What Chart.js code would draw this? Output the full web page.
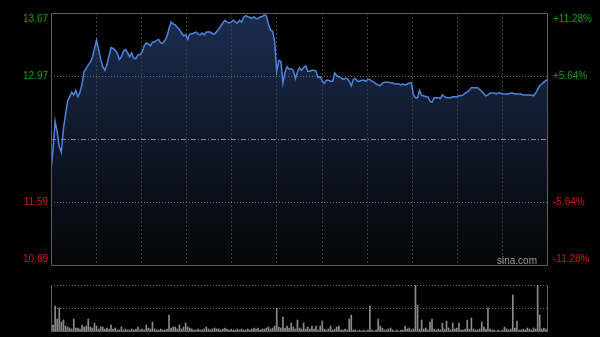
<!DOCTYPE html>
<html>
<head>
<meta charset="utf-8">
<script src="https://cdn.jsdelivr.net/npm/chart.js@4.4.1/dist/chart.umd.min.js"></script>
<style>
  html, body { margin: 0; padding: 0; background: #000; }
  #wrap { position: relative; width: 600px; height: 337px; overflow: hidden; background: #000; }
  #priceChart { position: absolute; left: 0; top: 0; }
  #volChart { position: absolute; left: 0; top: 275px; }
</style>
</head>
<body>
<div id="wrap">
  <canvas id="priceChart" width="600" height="275"></canvas>
  <canvas id="volChart" width="600" height="62"></canvas>
</div>
<script>
// intraday, one value per minute (241 minutes)
const prevClose = 12.28;
const priceTicks = [13.67, 12.97, 12.28, 11.59, 10.89];
const priceLabels = ['13.67', '12.97', '', '11.59', '10.89'];
const pctLabels = ['+11.28%', '+5.64%', '', '-5.64%', '-11.28%'];

const prices = [
  11.95, 12.17, 12.48, 12.36, 12.20, 12.14, 12.40, 12.55, 12.70, 12.75,
  12.80, 12.77, 12.82, 12.75, 12.80, 12.89, 13.03, 13.06, 13.10, 13.13,
  13.18, 13.28, 13.37, 13.27, 13.16, 13.08, 13.04, 13.10, 13.20, 13.29,
  13.28, 13.26, 13.23, 13.16, 13.19, 13.25, 13.27, 13.23, 13.19, 13.23,
  13.17, 13.17, 13.21, 13.21, 13.24, 13.31, 13.34, 13.33, 13.31, 13.35,
  13.35, 13.37, 13.38, 13.34, 13.34, 13.37, 13.41, 13.50, 13.57, 13.55,
  13.54, 13.51, 13.49, 13.45, 13.42, 13.43, 13.38, 13.44, 13.44, 13.45,
  13.46, 13.44, 13.43, 13.45, 13.43, 13.46, 13.46, 13.46, 13.44, 13.44,
  13.47, 13.49, 13.53, 13.56, 13.59, 13.57, 13.56, 13.57, 13.59, 13.57,
  13.56, 13.59, 13.57, 13.62, 13.64, 13.63, 13.62, 13.61, 13.63, 13.61,
  13.61, 13.63, 13.63, 13.65, 13.64, 13.55, 13.48, 13.47, 13.35, 13.03,
  13.15, 13.14, 12.90, 13.02, 13.08, 13.05, 13.06, 13.04, 12.95, 13.02,
  13.07, 13.04, 13.07, 13.09, 13.03, 13.03, 13.04, 13.04, 13.03, 12.96,
  12.97, 12.92, 12.90, 12.93, 12.93, 12.92, 12.92, 13.01, 12.98, 12.97,
  12.96, 12.94, 12.95, 12.95, 12.92, 12.87, 12.94, 12.95, 12.92, 12.92,
  12.93, 12.93, 12.92, 12.94, 12.94, 12.92, 12.91, 12.89, 12.88, 12.87,
  12.90, 12.91, 12.91, 12.91, 12.90, 12.90, 12.89, 12.89, 12.89, 12.88,
  12.89, 12.88, 12.89, 12.90, 12.90, 12.77, 12.74, 12.74, 12.82, 12.76,
  12.76, 12.75, 12.75, 12.70, 12.69, 12.74, 12.74, 12.74, 12.73, 12.77,
  12.75, 12.74, 12.74, 12.74, 12.75, 12.75, 12.75, 12.76, 12.76, 12.77,
  12.79, 12.80, 12.82, 12.85, 12.85, 12.85, 12.85, 12.83, 12.81, 12.78,
  12.76, 12.77, 12.79, 12.79, 12.79, 12.78, 12.79, 12.79, 12.78, 12.78,
  12.78, 12.78, 12.79, 12.79, 12.78, 12.78, 12.78, 12.78, 12.77, 12.77,
  12.77, 12.77, 12.77, 12.76, 12.79, 12.83, 12.87, 12.89, 12.91, 12.93,
  12.94
];

const volumes = [
  27, 7, 26, 13, 24, 10, 12, 6, 5, 4,
  3, 13, 4, 4, 3, 7, 5, 6, 13, 5,
  4, 9, 6, 3, 5, 5, 3, 4, 3, 7,
  3, 4, 2, 2, 5, 2, 3, 2, 2, 3,
  2, 3, 5, 2, 3, 2, 7, 4, 3, 10,
  3, 2, 2, 3, 2, 2, 3, 17, 4, 5,
  5, 3, 7, 3, 5, 9, 5, 4, 3, 2,
  2, 3, 2, 2, 3, 5, 3, 2, 3, 4,
  3, 3, 2, 3, 4, 3, 2, 3, 2, 2,
  3, 2, 3, 2, 2, 3, 2, 3, 4, 3,
  4, 2, 3, 3, 4, 5, 3, 4, 6, 24,
  5, 4, 15, 4, 6, 4, 9, 5, 3, 12,
  4, 3, 9, 3, 5, 3, 6, 3, 6, 2,
  6, 11, 3, 2, 3, 6, 2, 3, 5, 6,
  2, 2, 3, 2, 13, 17, 2, 2, 1, 2,
  1, 2, 1, 2, 26, 2, 1, 2, 13, 6,
  4, 2, 2, 3, 4, 2, 1, 2, 1, 2,
  2, 6, 3, 4, 2, 3, 47, 27, 3, 12,
  3, 4, 2, 10, 13, 3, 2, 3, 2, 9,
  3, 11, 4, 2, 9, 3, 4, 9, 2, 2,
  3, 12, 3, 14, 3, 2, 2, 3, 10, 5,
  3, 24, 3, 2, 2, 1, 2, 1, 2, 5,
  3, 2, 3, 37, 4, 11, 2, 2, 3, 2,
  4, 3, 2, 4, 3, 47, 17, 3, 4, 3,
  5
];

const minutes = prices.map((_, i) => i);

const UP = '#12a012';
const DOWN = '#d41414';

// box round the plot area
const framePlugin = {
  id: 'frame',
  afterDraw(chart, args, opts) {
    const { ctx, chartArea: a } = chart;
    ctx.save();
    ctx.strokeStyle = opts.color || '#5a5a5a';
    ctx.lineWidth = 1;
    ctx.beginPath();
    const l = Math.round(a.left) + 0.5, r = Math.round(a.right) - 0.5;
    const t = Math.round(a.top) + 0.5, b = Math.round(a.bottom) - 0.5;
    if (opts.top !== false) { ctx.moveTo(l, t); ctx.lineTo(r, t); }
    ctx.moveTo(l, t); ctx.lineTo(l, b);
    ctx.moveTo(r, t); ctx.lineTo(r, b);
    ctx.moveTo(l, b); ctx.lineTo(r, b);
    ctx.stroke();
    ctx.restore();
  }
};

// price labels left, percent labels right, kept inside the box at the ends
const sideLabels = {
  id: 'sideLabels',
  afterDraw(chart) {
    const { ctx, chartArea: a, scales } = chart;
    ctx.save();
    ctx.font = '10px "Liberation Sans", Arial, sans-serif';
    ctx.textBaseline = 'middle';
    priceTicks.forEach((v, i) => {
      if (!priceLabels[i]) return;
      let y = scales.y.getPixelForValue(v);
      y = Math.min(Math.max(y, a.top + 6), a.bottom - 6.5);
      ctx.fillStyle = v > prevClose ? UP : DOWN;
      ctx.textAlign = 'right';
      ctx.fillText(priceLabels[i], a.left - 3, y);
      ctx.textAlign = 'left';
      ctx.fillText(pctLabels[i], a.right + 5, y);
    });
    ctx.fillStyle = '#9a9a9a';
    ctx.textAlign = 'right';
    ctx.fillText('sina.com', a.right - 11, a.bottom - 4.5);
    ctx.restore();
  }
};

new Chart(document.getElementById('priceChart'), {
  type: 'line',
  data: {
    datasets: [{
      label: 'price',
      data: prices.map((p, i) => ({ x: minutes[i], y: p })),
      borderColor: '#4b86dc',
      borderWidth: 1.5,
      pointRadius: 0,
      tension: 0,
      fill: 'start',
      order: 0,
      backgroundColor: (c) => {
        const { ctx, chartArea } = c.chart;
        if (!chartArea) return 'rgba(0,0,0,0)';
        const g = ctx.createLinearGradient(0, chartArea.top, 0, chartArea.bottom);
        g.addColorStop(0, '#1b2d50');
        g.addColorStop(0.5, '#0f1829');
        g.addColorStop(1, '#040507');
        return g;
      }
    }, {
      label: 'prev close',
      data: [{ x: minutes[0], y: prevClose }, { x: minutes[minutes.length - 1], y: prevClose }],
      borderColor: '#8a8a8a',
      borderWidth: 1,
      borderDash: [5, 2, 1, 2],
      pointRadius: 0,
      fill: false,
      order: 1
    }]
  },
  options: {
    responsive: false,
    animation: false,
    devicePixelRatio: 1,
    layout: { padding: { top: 13, right: 52, bottom: 9, left: 0 } },
    scales: {
      x: {
        type: 'linear',
        min: 0,
        max: 240,
        ticks: { display: false },
        grid: {
          drawTicks: false,
          color: (c) => (c.index === 0 || c.index === 11) ? 'rgba(0,0,0,0)' : '#3e3e3e'
        },
        border: { display: false, dash: [2, 2] },
        afterBuildTicks: (s) => { s.ticks = Array.from({ length: 12 }, (_, k) => ({ value: k * 240 / 11 })); },
        afterFit: (s) => { s.height = 0; }
      },
      y: {
        min: priceTicks[priceTicks.length - 1],
        max: priceTicks[0],
        ticks: { display: false },
        grid: {
          drawTicks: false,
          color: (c) => (c.tick && (c.tick.value === 12.97 || c.tick.value === 11.59)) ? '#6a6a6a' : 'rgba(0,0,0,0)'
        },
        border: { display: false, dash: [1, 2] },
        afterBuildTicks: (s) => { s.ticks = priceTicks.map(v => ({ value: v })); },
        afterFit: (s) => { s.width = 51; }
      }
    },
    plugins: {
      legend: { display: false },
      tooltip: { enabled: false },
      filler: { drawTime: 'beforeDraw' },
      frame: { color: '#5e5e5e' }
    }
  },
  plugins: [framePlugin, sideLabels]
});

new Chart(document.getElementById('volChart'), {
  type: 'bar',
  data: {
    labels: minutes,
    datasets: [{
      label: 'volume',
      data: volumes,
      backgroundColor: '#8a8a8a',
      barThickness: 1
    }]
  },
  options: {
    responsive: false,
    animation: false,
    devicePixelRatio: 1,
    layout: { padding: { top: 10, right: 52, bottom: 5, left: 0 } },
    scales: {
      x: {
        offset: false,
        ticks: { display: false },
        grid: { display: false, drawTicks: false },
        border: { display: false },
        afterFit: (s) => { s.height = 0; }
      },
      y: {
        min: 0,
        max: 47,
        ticks: { display: false },
        grid: {
          drawTicks: false,
          color: (c) => c.index === 0 ? 'rgba(0,0,0,0)' : '#6a6a6a'
        },
        border: { display: false, dash: [1, 2] },
        afterBuildTicks: (s) => { s.ticks = [0, 23.5, 47].map(v => ({ value: v })); },
        afterFit: (s) => { s.width = 51; }
      }
    },
    plugins: {
      legend: { display: false },
      tooltip: { enabled: false },
      frame: { color: '#5e5e5e', top: false }
    }
  },
  plugins: [framePlugin]
});
</script>
</body>
</html>
